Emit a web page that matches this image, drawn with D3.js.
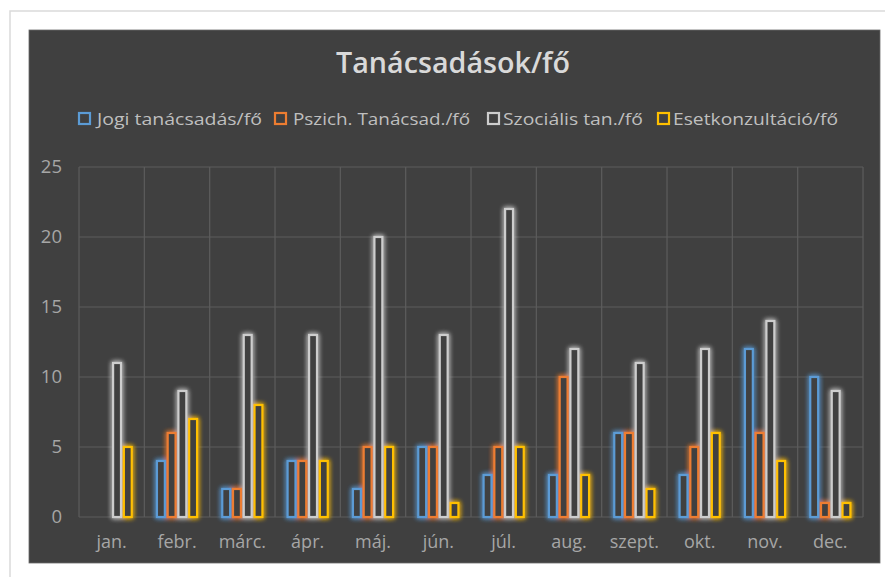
<!DOCTYPE html>
<html>
<head>
<meta charset="utf-8">
<script src="https://cdn.jsdelivr.net/npm/d3@7"></script>
<style>
  html, body { margin: 0; padding: 0; background: #ffffff; }
  svg { display: block; }
</style>
</head>
<body>
<svg id="chart" width="885" height="577"></svg>
<script>
const title = "Tanácsadások/fő";
const months = ["jan.", "febr.", "márc.", "ápr.", "máj.", "jún.", "júl.", "aug.", "szept.", "okt.", "nov.", "dec."];
const seriesNames = ["Jogi tanácsadás/fő", "Pszich. Tanácsad./fő", "Szociális tan./fő", "Esetkonzultáció/fő"];
const jogi     = [0, 4, 2, 4, 2, 5, 3, 3, 6, 3, 12, 10];
const pszich   = [0, 6, 2, 4, 5, 5, 5, 10, 6, 5, 6, 1];
const szocialis= [11, 9, 13, 13, 20, 13, 22, 12, 11, 12, 14, 9];
const eset     = [5, 7, 8, 4, 5, 1, 5, 3, 2, 6, 4, 1];
const yTicks = [0, 5, 10, 15, 20, 25];
const colors = ["#5B9BD5", "#ED7D31", "#CDCDCD", "#FFC000"];

const seriesValues = [jogi, pszich, szocialis, eset];

const svg = d3.select("#chart");
const font = "'Open Sans', 'Noto Sans', sans-serif";

// outer frame
svg.append("rect").attr("x", 10).attr("y", 11).attr("width", 900).attr("height", 600)
  .attr("fill", "#ffffff").attr("stroke", "#dadada").attr("stroke-width", 1.5);

// chart background
svg.append("rect").attr("x", 29).attr("y", 30).attr("width", 851).attr("height", 533)
  .attr("fill", "#404040").attr("stroke", "#6a6a6a").attr("stroke-width", 0.8);

// glow filter
const defs = svg.append("defs");
const f = defs.append("filter").attr("id", "glow").attr("x", "-80%").attr("y", "-20%").attr("width", "260%").attr("height", "140%");
f.append("feGaussianBlur").attr("in", "SourceGraphic").attr("stdDeviation", 2.8).attr("result", "blur");
const fm = f.append("feMerge");
fm.append("feMergeNode").attr("in", "blur");
fm.append("feMergeNode").attr("in", "blur");
fm.append("feMergeNode").attr("in", "SourceGraphic");

const plot = { left: 79, right: 863, top: 167, bottom: 517 };

const x0 = d3.scaleBand().domain(months).range([plot.left, plot.right]).padding(0);
const cw = x0.bandwidth();
const groupW = cw * 0.645;
const x1 = d3.scaleBand().domain(d3.range(4)).range([(cw - groupW) / 2, (cw + groupW) / 2]).paddingInner(0.08);
const y = d3.scaleLinear().domain([0, 25]).range([plot.bottom, plot.top]);

// title
svg.append("text").attr("x", 336).attr("y", 73)
  .attr("font-family", font).attr("font-weight", "600")
  .attr("font-size", 28).attr("fill", "#d9d9d9")
  .attr("textLength", 234).attr("lengthAdjust", "spacingAndGlyphs").text(title);

// legend
const legendX = [78, 274, 487, 657];
const legendTextX = [97, 293, 503, 673];
const legendTextW = [165, 177, 140, 165];
const lg = svg.append("g");
seriesNames.forEach((name, i) => {
  lg.append("rect").attr("x", legendX[i] + 1).attr("y", 113).attr("width", 11).attr("height", 11)
    .attr("fill", "#404040").attr("stroke", colors[i]).attr("stroke-width", 2.2);
  lg.append("text").attr("x", legendTextX[i]).attr("y", 124.5)
    .attr("font-family", font).attr("font-size", 16)
    .attr("textLength", legendTextW[i]).attr("lengthAdjust", "spacingAndGlyphs")
    .attr("fill", "#bfbfbf").text(name);
});

// gridlines
const grid = svg.append("g");
grid.selectAll("line.h").data(yTicks).enter().append("line")
  .attr("x1", plot.left).attr("x2", plot.right)
  .attr("y1", d => y(d)).attr("y2", d => y(d))
  .attr("stroke", "#5d5d5d").attr("stroke-width", 1.2);
const vx = months.map(m => x0(m)).concat([plot.right]);
grid.selectAll("line.v").data(vx).enter().append("line")
  .attr("x1", d => d).attr("x2", d => d)
  .attr("y1", plot.top).attr("y2", plot.bottom)
  .attr("stroke", "#5d5d5d").attr("stroke-width", 1.2);

// y axis labels
const yAxis = d3.axisLeft(y).tickValues(yTicks).tickSize(0).tickPadding(0);
const ya = svg.append("g").attr("transform", `translate(62,0)`).call(yAxis);
ya.select(".domain").remove();
ya.selectAll("text").attr("font-family", font)
  .attr("font-size", 18.5).attr("fill", "#a6a6a6");

// x axis labels
const xAxis = d3.axisBottom(x0).tickSize(0).tickPadding(0);
const xa = svg.append("g").attr("transform", `translate(0,${plot.bottom + 18})`).call(xAxis);
xa.select(".domain").remove();
xa.selectAll("text").attr("font-family", font)
  .attr("font-size", 18).attr("fill", "#a6a6a6");

// bars
const data = [];
months.forEach((m, mi) => {
  seriesValues.forEach((vals, si) => {
    data.push({ month: m, s: si, v: vals[mi] });
  });
});
const bars = svg.append("g").attr("filter", "url(#glow)");
bars.selectAll("rect").data(data.filter(d => d.v > 0)).enter().append("rect")
  .attr("x", d => x0(d.month) + x1(d.s) + 1)
  .attr("y", d => y(d.v))
  .attr("width", x1.bandwidth() - 2)
  .attr("height", d => y(0) - y(d.v))
  .attr("fill", "#404040")
  .attr("stroke", d => colors[d.s])
  .attr("stroke-width", 2.2);
</script>
</body>
</html>
